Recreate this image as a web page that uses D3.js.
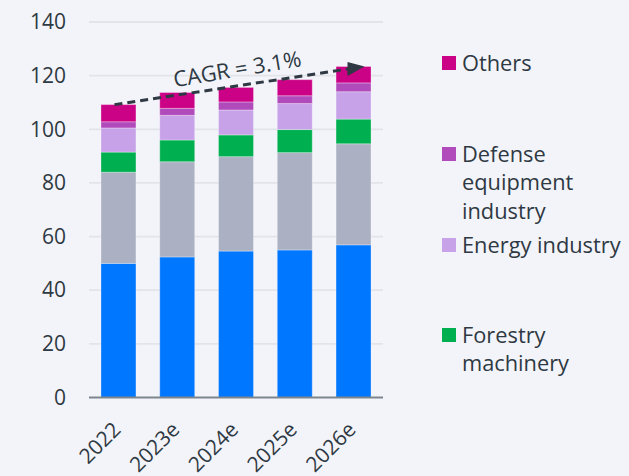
<!DOCTYPE html>
<html>
<head>
<meta charset="utf-8">
<script src="https://cdn.jsdelivr.net/npm/d3@7"></script>
<style>
  html, body { margin: 0; padding: 0; background: #f3f4f9; }
  svg { display: block; font-family: "Open Sans", "Noto Sans", sans-serif; }
</style>
</head>
<body>
<svg id="chart" width="629" height="476"></svg>
<script>
// Years on the x axis
const categories = ["2022", "2023e", "2024e", "2025e", "2026e"];

// Segment values, stacked bottom to top
const baseSegment     = [50.0, 52.4, 54.6, 55.0, 56.9];
const secondSegment   = [34.0, 35.5, 35.2, 36.3, 37.7];
const forestry        = [7.5, 8.1, 8.1, 8.6, 9.2];
const energy          = [9.0, 9.2, 9.3, 9.7, 10.2];
const defense         = [2.3, 2.6, 3.0, 2.9, 3.3];
const others          = [6.4, 5.9, 5.4, 6.0, 6.1];

const seriesKeys   = ["base", "second", "forestry", "energy", "defense", "others"];
const seriesValues = [baseSegment, secondSegment, forestry, energy, defense, others];
const seriesColors = ["#0077ff", "#abb1c3", "#00b050", "#c8a2e9", "#b14bbb", "#cc0286"];

// Legend entries (top to bottom)
const legendKeys   = ["others", "defense", "energy", "forestry"];
const legendLabels = [["Others"], ["Defense", "equipment", "industry"], ["Energy industry"], ["Forestry", "machinery"]];

const yTicks = [0, 20, 40, 60, 80, 100, 120, 140];
const cagrLabel = "CAGR = 3.1%";

const svg = d3.select("#chart");
const textColor = "#2e3943";
const fontSize = "21px";
const bigFontSize = "21.8px";

const x = d3.scaleBand()
  .domain(categories)
  .range([89, 383])
  .paddingInner(0.405)
  .paddingOuter(0.204);

const y = d3.scaleLinear().domain([0, 140]).range([397.5, 22]);

// Gridlines
svg.append("g")
  .selectAll("line")
  .data(yTicks.filter(d => d > 0))
  .join("line")
  .attr("x1", 89).attr("x2", 383)
  .attr("y1", d => y(d)).attr("y2", d => y(d))
  .attr("stroke", "#e3e4ea").attr("stroke-width", 1.8);

// Y axis labels
const yAxis = svg.append("g")
  .attr("transform", "translate(89,0)")
  .call(d3.axisLeft(y).tickValues(yTicks).tickSize(0).tickPadding(23));
yAxis.select(".domain").remove();
yAxis.selectAll("text")
  .attr("fill", textColor)
  .style("font-size", fontSize)
  .style("font-family", "'Open Sans', 'Noto Sans', sans-serif");

// Stack data
const rows = categories.map((c, i) => {
  const r = { cat: c };
  seriesKeys.forEach((k, j) => { r[k] = seriesValues[j][i]; });
  return r;
});
const stacked = d3.stack().keys(seriesKeys)(rows);
const color = d3.scaleOrdinal().domain(seriesKeys).range(seriesColors);

svg.append("g")
  .selectAll("g")
  .data(stacked)
  .join("g")
  .attr("fill", d => color(d.key))
  .selectAll("rect")
  .data(d => d)
  .join("rect")
  .attr("x", d => x(d.data.cat))
  .attr("width", x.bandwidth())
  .attr("y", d => y(d[1]))
  .attr("height", d => y(d[0]) - y(d[1]))
  .attr("stroke", "rgba(255,255,255,0.3)")
  .attr("stroke-width", 1);

// Baseline
svg.append("line")
  .attr("x1", 89).attr("x2", 383)
  .attr("y1", y(0)).attr("y2", y(0))
  .attr("stroke", "#7d858d").attr("stroke-width", 2);

// X labels, rotated
svg.append("g")
  .selectAll("text")
  .data(categories)
  .join("text")
  .attr("transform", d => `translate(${x(d) + x.bandwidth() / 2 + 3.5},${y(0) + 33.5}) rotate(-45)`)
  .attr("text-anchor", "end")
  .attr("fill", textColor)
  .style("font-size", fontSize)
  .text(d => d);

// CAGR arrow from first total to last total
const totals = rows.map(r => d3.sum(seriesKeys, k => r[k]));
const x0 = x(categories[0]) + x.bandwidth() / 2 - 4;
const y0 = y(totals[0]);
const x1 = x(categories[categories.length - 1]) + x.bandwidth() / 2 + 11;
const y1 = y(totals[totals.length - 1]);
const slope = (y0 - y1) / (x1 - x0);

svg.append("line")
  .attr("x1", x0).attr("y1", y0)
  .attr("x2", x1 - 6).attr("y2", y1 + slope * 6)
  .attr("stroke", "#2e3943")
  .attr("stroke-width", 3)
  .attr("stroke-dasharray", "8,5");

svg.append("path")
  .attr("d", `M${x1 - 17},${y1 + slope * 17 - 7} L${x1},${y1} L${x1 - 17},${y1 + slope * 17 + 7} Z`)
  .attr("fill", "#2e3943");

const angle = Math.atan2(y1 - y0, x1 - x0) * 180 / Math.PI;
svg.append("text")
  .attr("transform", `translate(${(x0 + x1) / 2 - 1},${(y0 + y1) / 2 - 9}) rotate(${angle - 0.8})`)
  .attr("text-anchor", "middle")
  .attr("fill", textColor)
  .style("font-size", bigFontSize)
  .text(cagrLabel);

// Legend
const legendY = [63, 154, 245, 335];
const legend = svg.append("g");
legendKeys.forEach((k, i) => {
  const g = legend.append("g").attr("transform", `translate(442,${legendY[i]})`);
  g.append("rect")
    .attr("x", 0).attr("y", -7)
    .attr("width", 14).attr("height", 14)
    .attr("fill", color(k));
  g.append("text")
    .attr("fill", textColor)
    .style("font-size", bigFontSize)
    .selectAll("tspan")
    .data(legendLabels[i])
    .join("tspan")
    .attr("x", 20)
    .attr("y", (d, j) => j * 28.5)
    .attr("dy", "0.35em")
    .text(d => d);
});
</script>
</body>
</html>
